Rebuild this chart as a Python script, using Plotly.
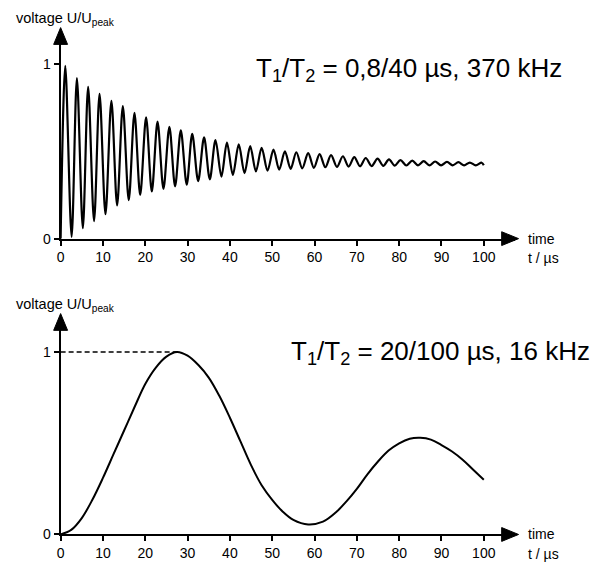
import plotly.graph_objects as go

# ---------------- data ----------------
# Top: damped oscillation T1/T2 = 0,8/40 us, 370 kHz  (extrema of the wave)
top_start = (0.0, 0.0)
top_peak_t = [1.1, 3.85, 6.5, 9.2, 12.0, 14.7, 17.45, 20.2, 22.9, 25.7, 28.4, 31.1,
              33.9, 36.6, 39.3, 42.1, 44.8, 47.5, 50.3, 53.0, 55.7, 58.5, 61.2, 63.9,
              66.7, 69.4, 72.1, 74.9, 77.6, 80.3, 83.1, 85.8, 88.5, 91.3, 94.0, 96.7, 99.5]
top_peak_v = [0.99, 0.92, 0.87, 0.83, 0.79, 0.76, 0.72, 0.695, 0.67, 0.64, 0.62, 0.60,
              0.58, 0.565, 0.55, 0.54, 0.53, 0.52, 0.51, 0.50, 0.495, 0.49, 0.484, 0.478,
              0.472, 0.467, 0.462, 0.458, 0.454, 0.45, 0.447, 0.444, 0.442, 0.44, 0.438,
              0.436, 0.435]
top_trough_t = [2.6, 5.25, 7.9, 10.6, 13.35, 16.1, 18.8, 21.55, 24.3, 27.05, 29.8, 32.5,
                35.25, 38.0, 40.7, 43.45, 46.15, 48.9, 51.65, 54.35, 57.1, 59.85, 62.55,
                65.3, 68.05, 70.75, 73.5, 76.25, 78.95, 81.7, 84.45, 87.15, 89.9, 92.65,
                95.35, 98.1]
top_trough_v = [0.01, 0.06, 0.10, 0.14, 0.19, 0.22, 0.25, 0.27, 0.285, 0.30, 0.31, 0.33,
                0.34, 0.355, 0.365, 0.375, 0.385, 0.39, 0.395, 0.40, 0.403, 0.406, 0.409,
                0.411, 0.413, 0.415, 0.416, 0.417, 0.418, 0.419, 0.42, 0.42, 0.42, 0.42,
                0.42, 0.42]
top_end = (100.0, 0.42)

# Bottom: T1/T2 = 20/100 us, 16 kHz
bottom_t = [0, 2.5, 5, 7.5, 10, 12.5, 15, 17.5, 20, 22.5, 25, 27.5, 30, 32.5, 35, 37.5,
            40, 42.5, 45, 47.5, 50, 52.5, 55, 58.5, 62, 65, 67.5, 70, 72.5, 75, 77.5, 80,
            82.5, 85, 87.5, 90, 92.5, 95, 97.5, 100]
bottom_v = [0.0, 0.025, 0.09, 0.19, 0.31, 0.44, 0.57, 0.70, 0.825, 0.915, 0.975, 1.0, 0.98,
            0.93, 0.86, 0.76, 0.64, 0.51, 0.38, 0.27, 0.19, 0.125, 0.08, 0.055, 0.07, 0.12,
            0.18, 0.25, 0.33, 0.40, 0.46, 0.50, 0.525, 0.53, 0.52, 0.49, 0.455, 0.41, 0.355,
            0.30]

x_ticks = [0, 10, 20, 30, 40, 50, 60, 70, 80, 90, 100]
y_ticks = [0, 1]
top_title = "T<sub>1</sub>/T<sub>2</sub> = 0,8/40 µs, 370 kHz"
bottom_title = "T<sub>1</sub>/T<sub>2</sub> = 20/100 µs, 16 kHz"
y_label = "voltage U/U<sub>peak</sub>"
x_label_1 = "time"
x_label_2 = "t / µs"

# ---------------- build the top series ----------------
top_t = [top_start[0]]
top_v = [top_start[1]]
for i in range(len(top_peak_t)):
    top_t.append(top_peak_t[i]); top_v.append(top_peak_v[i])
    if i < len(top_trough_t):
        top_t.append(top_trough_t[i]); top_v.append(top_trough_v[i])
top_t.append(top_end[0]); top_v.append(top_end[1])

peak_idx = bottom_v.index(max(bottom_v))

# ---------------- layout geometry (pixels) ----------------
W, H = 602, 576
def px(xp):
    return xp / W
def py(yp):
    return 1 - yp / H

X0, XTIP = 57, 518
TOP_Y0, TOP_YTIP = 242, 28
BOT_Y0, BOT_YTIP = 542, 318
XR = [0, 100 * (XTIP - X0) / (483 - X0)]

FONT = "Arial, Liberation Sans, sans-serif"
fig = go.Figure()

fig.add_trace(go.Scatter(x=top_t, y=top_v, mode="lines", xaxis="x", yaxis="y",
                         line=dict(color="black", width=2.2, shape="spline", smoothing=0.9),
                         showlegend=False, hoverinfo="skip", cliponaxis=False))
fig.add_trace(go.Scatter(x=bottom_t, y=bottom_v, mode="lines", xaxis="x2", yaxis="y2",
                         line=dict(color="black", width=2, shape="spline"),
                         showlegend=False, hoverinfo="skip", cliponaxis=False))
fig.add_trace(go.Scatter(x=[0, bottom_t[peak_idx]], y=[1, 1], mode="lines",
                         xaxis="x2", yaxis="y2",
                         line=dict(color="black", width=1.5, dash="5px,3px"),
                         showlegend=False, hoverinfo="skip", cliponaxis=False))

xax = dict(range=XR, domain=[px(X0), px(XTIP - 4)], showgrid=False, zeroline=False,
           showline=True, linecolor="black", linewidth=2, ticks="outside", ticklen=5,
           tickwidth=1.5, tickcolor="black", tickvals=x_ticks,
           tickfont=dict(family=FONT, size=14, color="black"), fixedrange=True)
top_yr = [0, (TOP_Y0 - TOP_YTIP - 4) / 177]
bot_yr = [0, (BOT_Y0 - BOT_YTIP - 4) / 185]
yax = dict(showgrid=False, zeroline=False, showline=True, linecolor="black", linewidth=2,
           ticks="outside", ticklen=5, tickwidth=1.5, tickcolor="black", tickvals=y_ticks,
           tickfont=dict(family=FONT, size=14, color="black"), fixedrange=True)

fig.update_layout(
    width=W, height=H, margin=dict(l=0, r=0, t=0, b=0),
    paper_bgcolor="white", plot_bgcolor="white",
    xaxis=dict(xax, range=[0, XR[1] * (XTIP - 4 - X0) / (XTIP - X0)], anchor="y"),
    xaxis2=dict(xax, range=[0, XR[1] * (XTIP - 4 - X0) / (XTIP - X0)], anchor="y2"),
    yaxis=dict(yax, range=top_yr, domain=[py(TOP_Y0), py(TOP_YTIP + 4)], anchor="x"),
    yaxis2=dict(yax, range=bot_yr, domain=[py(BOT_Y0), py(BOT_YTIP + 4)], anchor="x2"),
)

shapes = []
ann = []
AL, AW = 17, 7  # arrowhead length, half-width (px)
for y0, ytip, title, tx, ty, ly in [(TOP_Y0, TOP_YTIP, top_title, 252, 70, 19),
                                     (BOT_Y0, BOT_YTIP, bottom_title, 287, 357, 309)]:
    # x arrowhead (filled triangle)
    shapes.append(dict(type="path", xref="paper", yref="paper",
                       path=f"M {px(XTIP)},{py(y0)} L {px(XTIP - AL)},{py(y0 - AW)} "
                            f"L {px(XTIP - AL)},{py(y0 + AW)} Z",
                       fillcolor="black", line=dict(color="black", width=1)))
    # y arrowhead
    shapes.append(dict(type="path", xref="paper", yref="paper",
                       path=f"M {px(X0)},{py(ytip)} L {px(X0 - AW)},{py(ytip + AL)} "
                            f"L {px(X0 + AW)},{py(ytip + AL)} Z",
                       fillcolor="black", line=dict(color="black", width=1)))
    ann.append(dict(xref="paper", yref="paper", x=px(525), y=py(y0), xanchor="left",
                    yanchor="middle", text=x_label_1, showarrow=False,
                    font=dict(family=FONT, size=14, color="black")))
    ann.append(dict(xref="paper", yref="paper", x=px(525), y=py(y0 + 20), xanchor="left",
                    yanchor="middle", text=x_label_2, showarrow=False,
                    font=dict(family=FONT, size=14, color="black")))
    ann.append(dict(xref="paper", yref="paper", x=px(10), y=py(ly), xanchor="left",
                    yanchor="middle", text=y_label, showarrow=False,
                    font=dict(family=FONT, size=14.5, color="black")))
    ann.append(dict(xref="paper", yref="paper", x=px(tx), y=py(ty), xanchor="left",
                    yanchor="middle", text=title, showarrow=False,
                    font=dict(family=FONT, size=26, color="black")))
fig.update_layout(annotations=ann, shapes=shapes)

fig.write_html("out.html")
